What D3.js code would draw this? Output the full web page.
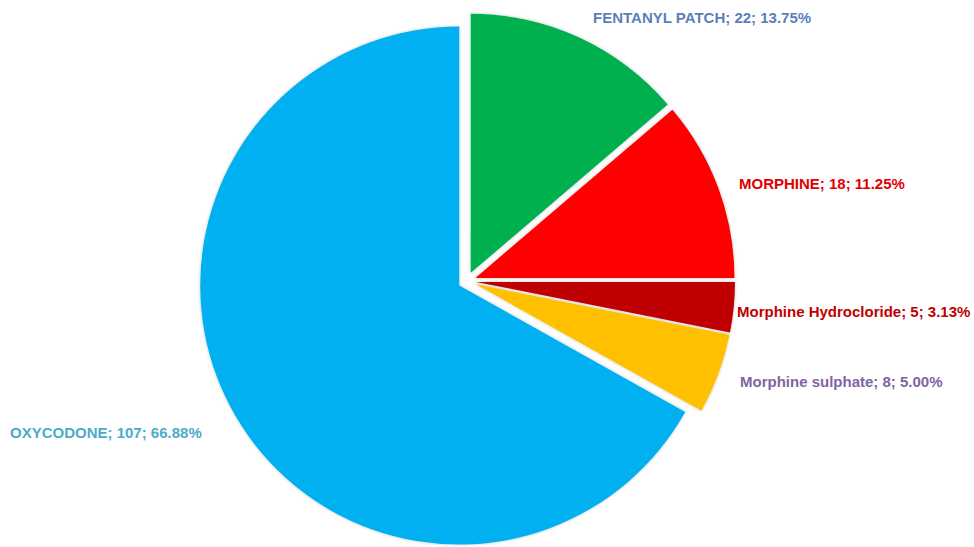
<!DOCTYPE html>
<html>
<head>
<meta charset="utf-8">
<script src="https://cdn.jsdelivr.net/npm/d3@7"></script>
<style>
  body { margin: 0; background: #fff; }
  svg { display: block; }
</style>
</head>
<body>
<svg id="chart"></svg>
<script>
const categories = ["FENTANYL PATCH", "MORPHINE", "Morphine Hydrocloride", "Morphine sulphate", "OXYCODONE"]
const values = [22, 18, 5, 8, 107]
const percents = ["13.75%", "11.25%", "3.13%", "5.00%", "66.88%"]

const sliceColors = ["#00b050", "#ff0000", "#c00000", "#ffc000", "#00b0f0"]
const labelColors = ["#5b7fba", "#e00000", "#c00000", "#8064a2", "#4bacc6"]
// label anchor points (left edge, baseline)
const labelPos = [[593, 23], [739, 189], [737, 317], [740, 387], [10, 438]]

const width = 974, height = 547
const cx = 467, cy = 281, radius = 259, explode = 9

const svg = d3.select("#chart").attr("width", width).attr("height", height)

const defs = svg.append("defs")
const f = defs.append("filter").attr("id", "shadow")
  .attr("x", "-10%").attr("y", "-10%").attr("width", "120%").attr("height", "120%")
f.append("feDropShadow").attr("dx", 0).attr("dy", 0).attr("stdDeviation", 1.5)
  .attr("flood-color", "#000").attr("flood-opacity", 0.25)

const pie = d3.pie().sort(null).value(d => d)
const arcs = pie(values)
const arc = d3.arc().innerRadius(0).outerRadius(radius)

const g = svg.append("g").attr("transform", "translate(" + cx + "," + cy + ")")

g.selectAll("path")
  .data(arcs)
  .enter()
  .append("path")
    .attr("d", arc)
    .attr("transform", function(d) {
      const a = (d.startAngle + d.endAngle) / 2
      return "translate(" + (Math.sin(a) * explode) + "," + (-Math.cos(a) * explode) + ")"
    })
    .attr("fill", (d, i) => sliceColors[i])
    .attr("filter", "url(#shadow)")

svg.selectAll("text.lbl")
  .data(arcs)
  .enter()
  .append("text")
    .attr("class", "lbl")
    .attr("x", (d, i) => labelPos[i][0])
    .attr("y", (d, i) => labelPos[i][1])
    .attr("fill", (d, i) => labelColors[i])
    .style("font-family", "'Liberation Sans', Arial, sans-serif")
    .style("font-weight", "bold")
    .style("font-size", "15px")
    .text((d, i) => categories[i] + "; " + values[i] + "; " + percents[i])
</script>
</body>
</html>
